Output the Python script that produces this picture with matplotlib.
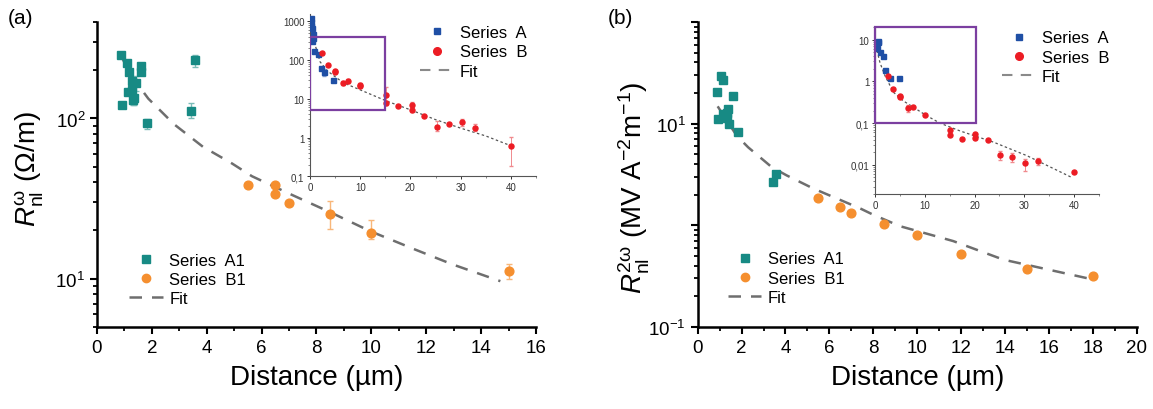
import matplotlib
matplotlib.use("Agg")
import matplotlib.pyplot as plt
from matplotlib.lines import Line2D
from matplotlib.patches import Rectangle
from matplotlib.ticker import FixedLocator, FixedFormatter, LogLocator, NullFormatter, MultipleLocator

plt.rcParams['font.family'] = ['Liberation Sans', 'DejaVu Sans']
plt.rcParams['mathtext.fontset'] = 'custom'
plt.rcParams['mathtext.rm'] = 'Liberation Sans'
plt.rcParams['mathtext.it'] = 'Liberation Sans:italic'

TEAL, ORANGE = "#178a84", "#f58f2f"
BLUE, RED = "#1f4fa5", "#ec1c24"
GRAY, PURPLE = "#6e6e6e", "#7b3fa0"

# ── panel (a) main ────────────────────────────────────────────────────────────
a_a1_x = [0.86, 1.08, 1.18, 1.61, 1.62, 1.28, 1.42, 1.12, 1.27, 1.35, 1.33, 0.92, 1.81, 3.42, 3.58]
a_a1_y = [250, 222, 195, 212, 196, 171, 167, 147, 150, 134, 130, 122, 93.5, 112, 230]
a_a1_dn = [4, 4, 4, 4, 4, 6, 19, 4, 4, 12, 8, 4, 7, 12, 20]
a_a1_up = [4, 4, 4, 4, 4, 6, 17, 4, 4, 4, 8, 4, 6, 12, 20]
a_b1_x = [5.5, 6.5, 6.5, 7.0, 8.5, 10.0, 15.0]
a_b1_y = [38.4, 38.2, 33.7, 29.9, 25.4, 19.4, 11.1]
a_b1_dn = [0.8, 0.8, 0.8, 0.8, 5.1, 1.8, 1.1]
a_b1_up = [0.8, 0.8, 0.8, 0.8, 5.3, 3.7, 1.3]
a_fit_x = [0.86, 1.2, 1.87, 2.81, 3.86, 4.92, 5.65, 7.0, 8.5, 9.96, 11.6, 12.95, 14.7]
a_fit_y = [250, 190, 133, 92, 66.6, 52.4, 43.6, 34, 26, 19.8, 15.2, 12.3, 9.66]

# ── panel (a) inset ───────────────────────────────────────────────────────────
ia_a_x = [0.2, 0.2, 0.2, 0.33, 0.53, 0.53, 0.4, 0.86, 1.53, 2.12, 2.85, 4.65]
ia_a_y = [1195, 975, 770, 660, 470, 364, 316, 174, 143, 61, 48, 31]
ia_a_dn = [0, 0, 0, 0, 0, 0, 0, 0, 0, 0, 9, 0]
ia_a_up = [0, 0, 0, 0, 0, 0, 0, 0, 0, 0, 10, 0]
ia_b_x = [2.45, 3.5, 4.98, 4.98, 6.5, 7.5, 9.96, 9.96, 15.1, 15.1, 17.6, 20.3, 20.3, 22.7, 25.2, 27.75, 30.3, 32.8, 40.0]
ia_b_y = [149, 74.5, 53, 48, 25.6, 29.3, 22.7, 21, 12.8, 7.65, 6.4, 6.9, 5.1, 3.7, 1.9, 2.3, 2.5, 1.8, 0.6]
ia_b_dn = [0, 0, 0, 0, 3, 3, 2.5, 2, 4, 0.6, 0, 0.9, 0.4, 0, 0.4, 0, 0.5, 0.3, 0.42]
ia_b_up = [0, 0, 0, 0, 3, 3, 2.5, 2, 7, 0.6, 0, 1.3, 0.4, 0, 0.75, 0, 0.6, 0.4, 0.45]
ia_fit_x = [0.3, 1, 2, 3.5, 6.6, 10, 15.3, 20, 25, 30, 35, 40.2]
ia_fit_y = [700, 250, 90, 52, 26, 17, 8.7, 5.2, 2.9, 1.75, 1.1, 0.6]
ia_yticks = [0.1, 1, 10, 100, 1000]
ia_ylabels = ["0,1", "1", "10", "100", "1000"]

# ── panel (b) main ────────────────────────────────────────────────────────────
b_a1_x = [1.06, 1.17, 0.87, 1.62, 1.37, 1.35, 1.17, 0.92, 1.32, 1.43, 1.82, 3.57, 3.42]
b_a1_y = [29.4, 26.9, 20.5, 18.5, 13.8, 12.8, 12.3, 11.1, 11.4, 10.0, 8.2, 3.17, 2.67]
b_b1_x = [5.5, 6.5, 7.0, 8.5, 10, 12, 15, 18]
b_b1_y = [1.84, 1.52, 1.32, 1.04, 0.81, 0.52, 0.37, 0.32]
b_fit_x = [0.91, 1.78, 2.3, 3.37, 4.05, 5.27, 7.39, 8.0, 9.22, 11.64, 13.92, 17.8]
b_fit_y = [14.8, 7.6, 5.85, 3.74, 3.1, 2.3, 1.47, 1.27, 0.98, 0.70, 0.46, 0.30]

# ── panel (b) inset ───────────────────────────────────────────────────────────
ib_a_x = [0.67, 0.67, 0.47, 1.0, 1.54, 2.07, 3.0, 4.75]
ib_a_y = [9.5, 8.7, 6.2, 5.0, 4.0, 1.9, 1.2, 1.2]
ib_b_x = [2.55, 3.55, 5.02, 5.02, 6.55, 7.56, 10.0, 15.06, 15.06, 17.5, 20.1, 20.1, 22.6, 25.1, 27.6, 30.1, 32.7, 39.9]
ib_b_y = [1.32, 0.66, 0.45, 0.43, 0.226, 0.25, 0.156, 0.0695, 0.052, 0.0416, 0.055, 0.043, 0.039, 0.0175, 0.015, 0.0109, 0.0121, 0.0066]
ib_b_dn = [0, 0, 0, 0, 0.045, 0, 0, 0, 0, 0, 0, 0, 0, 0.0045, 0.003, 0.0037, 0.0023, 0]
ib_b_up = [0, 0, 0, 0, 0.045, 0, 0, 0, 0, 0, 0, 0, 0, 0.0035, 0.004, 0.003, 0.0024, 0]
ib_fit_x = [0.4, 1, 2, 3.7, 5.7, 10.4, 13.05, 17.07, 23.8, 30.5, 39.5]
ib_fit_y = [5.5, 2.8, 1.37, 0.55, 0.34, 0.15, 0.1, 0.065, 0.035, 0.0166, 0.005]
ib_yticks = [0.01, 0.1, 1, 10]
ib_ylabels = ["0,01", "0,1", "1", "10"]


def style_main(ax):
    for s in ("top", "right"):
        ax.spines[s].set_visible(False)
    for s in ("left", "bottom"):
        ax.spines[s].set_linewidth(1.8)
    ax.tick_params(which="major", length=5, width=1.5, labelsize=13.5, direction="out")
    ax.tick_params(which="minor", length=3, width=1.3, direction="out")
    ax.xaxis.set_major_locator(MultipleLocator(2))
    ax.xaxis.set_minor_locator(MultipleLocator(1))
    ax.yaxis.set_minor_locator(LogLocator(base=10, subs=range(2, 10)))
    ax.yaxis.set_minor_formatter(NullFormatter())
    ax.set_xlabel("Distance (µm)", fontsize=20, labelpad=6)


def style_inset(ax, yt, yl):
    ax.set_facecolor("none")
    for s in ("top", "right"):
        ax.spines[s].set_visible(False)
    for s in ("left", "bottom"):
        ax.spines[s].set_linewidth(0.8)
        ax.spines[s].set_color("#555555")
    ax.set_yscale("log")
    ax.set_xlim(0, 45)
    ax.xaxis.set_major_locator(FixedLocator([0, 10, 20, 30, 40]))
    ax.xaxis.set_minor_locator(FixedLocator([5, 15, 25, 35, 45]))
    ax.yaxis.set_major_locator(FixedLocator(yt))
    ax.yaxis.set_major_formatter(FixedFormatter(yl))
    ax.yaxis.set_minor_locator(LogLocator(base=10, subs=range(2, 10)))
    ax.yaxis.set_minor_formatter(NullFormatter())
    ax.tick_params(which="major", length=2.5, width=0.7, labelsize=7, pad=1.5, colors="#333333")
    ax.tick_params(which="minor", length=1.5, width=0.5, colors="#555555")


def errs(dn, up):
    return [dn, up]


fig = plt.figure(figsize=(11.53, 4.10), dpi=100)

# ── (a) ───────────────────────────────────────────────────────────────────────
ax1 = fig.add_axes([0.0841, 0.2, 0.3808, 0.744])
ax1.set_yscale("log")
ax1.plot(a_fit_x, a_fit_y, color=GRAY, lw=1.8, ls=(0, (5, 4)), zorder=2)
ax1.errorbar(a_a1_x, a_a1_y, yerr=errs(a_a1_dn, a_a1_up), fmt="s", color=TEAL, ms=6,
             ecolor="#7cbcb8", elinewidth=1, capsize=2.5, zorder=3)
ax1.errorbar(a_b1_x, a_b1_y, yerr=errs(a_b1_dn, a_b1_up), fmt="o", color=ORANGE, ms=6.3,
             ecolor="#f8b77a", elinewidth=1, capsize=2.5, zorder=3)
ax1.set_xlim(0, 16)
ax1.set_ylim(5, 400)
ax1.yaxis.set_major_locator(FixedLocator([10, 100]))
ax1.yaxis.set_major_formatter(FixedFormatter([r"$10^{1}$", r"$10^{2}$"]))
style_main(ax1)
ax1.set_ylabel(r"$R^{\mathrm{ω}}_{\mathrm{nl}}$ (Ω/m)", fontsize=20)
ax1.yaxis.set_label_coords(-0.115, 0.52)

h = [Line2D([], [], marker="s", ls="none", color=TEAL, ms=6),
     Line2D([], [], marker="o", ls="none", color=ORANGE, ms=6),
     Line2D([], [], color=GRAY, lw=1.8, ls=(0, (5, 4)))]
ax1.legend(h, ["Series  A1", "Series  B1", "Fit"], loc="upper left", bbox_to_anchor=(0.055, 0.27),
           frameon=False, fontsize=12, borderpad=0, labelspacing=0.25, handlelength=2.0, handletextpad=0.4)
fig.text(0.007, 0.955, "(a)", fontsize=15, va="center")

ins1 = fig.add_axes([0.2689, 0.5676, 0.1959, 0.3946])
style_inset(ins1, ia_yticks, ia_ylabels)
ins1.set_ylim(0.1, 1500)
ins1.plot(ia_fit_x, ia_fit_y, color="#555555", lw=0.9, ls=(0, (2, 2)), zorder=2)
ins1.errorbar(ia_a_x, ia_a_y, yerr=errs(ia_a_dn, ia_a_up), fmt="s", color=BLUE, ms=3.6,
              ecolor="#8aa6d6", elinewidth=0.7, capsize=1.5, zorder=3)
ins1.errorbar(ia_b_x, ia_b_y, yerr=errs(ia_b_dn, ia_b_up), fmt="o", color=RED, ms=3.6,
              ecolor="#f08a8e", elinewidth=0.7, capsize=1.5, zorder=3)
ins1.add_patch(Rectangle((0, 5), 15, 395, fill=False, ec=PURPLE, lw=1.6, zorder=4))
hi = [Line2D([], [], marker="s", ls="none", color=BLUE, ms=5),
      Line2D([], [], marker="o", ls="none", color=RED, ms=5.5),
      Line2D([], [], color="#8a8a8a", lw=1.5, ls=(0, (5, 4)))]
ins1.legend(hi, ["Series  A", "Series  B", "Fit"], loc="upper left", bbox_to_anchor=(0.45, 0.985),
            frameon=False, fontsize=12, borderpad=0, labelspacing=0.25, handlelength=2.0, handletextpad=0.4)

# ── (b) ───────────────────────────────────────────────────────────────────────
ax2 = fig.add_axes([0.6051, 0.2, 0.3808, 0.744])
ax2.set_yscale("log")
ax2.plot(b_fit_x, b_fit_y, color=GRAY, lw=1.8, ls=(0, (5, 4)), zorder=2)
ax2.plot(b_a1_x, b_a1_y, "s", color=TEAL, ms=6, zorder=3)
ax2.plot(b_b1_x, b_b1_y, "o", color=ORANGE, ms=6.3, zorder=3)
ax2.set_xlim(0, 20)
ax2.set_ylim(0.1, 100)
ax2.yaxis.set_major_locator(FixedLocator([0.1, 1, 10, 100]))
ax2.yaxis.set_major_formatter(FixedFormatter([r"$10^{-1}$", "", r"$10^{1}$", ""]))
style_main(ax2)
ax2.set_ylabel(r"$R^{\mathrm{2ω}}_{\mathrm{nl}}$ (MV A$^{\mathrm{-2}}$m$^{\mathrm{-1}}$)", fontsize=20)
ax2.yaxis.set_label_coords(-0.105, 0.46)
ax2.legend(h, ["Series  A1", "Series  B1", "Fit"], loc="upper left", bbox_to_anchor=(0.05, 0.275),
           frameon=False, fontsize=12, borderpad=0, labelspacing=0.25, handlelength=2.0, handletextpad=0.4)
fig.text(0.527, 0.955, "(b)", fontsize=15, va="center")

ins2 = fig.add_axes([0.7589, 0.5244, 0.1943, 0.407])
style_inset(ins2, ib_yticks, ib_ylabels)
ins2.set_ylim(0.002, 20)
ins2.plot(ib_fit_x, ib_fit_y, color="#555555", lw=0.9, ls=(0, (2, 2)), zorder=2)
ins2.plot(ib_a_x, ib_a_y, "s", color=BLUE, ms=3.6, zorder=3)
ins2.errorbar(ib_b_x, ib_b_y, yerr=errs(ib_b_dn, ib_b_up), fmt="o", color=RED, ms=3.6,
              ecolor="#f08a8e", elinewidth=0.7, capsize=1.5, zorder=3)
ins2.add_patch(Rectangle((0, 0.1), 20.3, 19.9, fill=False, ec=PURPLE, lw=1.6, zorder=4, clip_on=False))
ins2.legend(hi, ["Series  A", "Series  B", "Fit"], loc="upper left", bbox_to_anchor=(0.53, 1.03),
            frameon=False, fontsize=12, borderpad=0, labelspacing=0.25, handlelength=2.0, handletextpad=0.4)

fig.savefig("out.png", dpi=100)
